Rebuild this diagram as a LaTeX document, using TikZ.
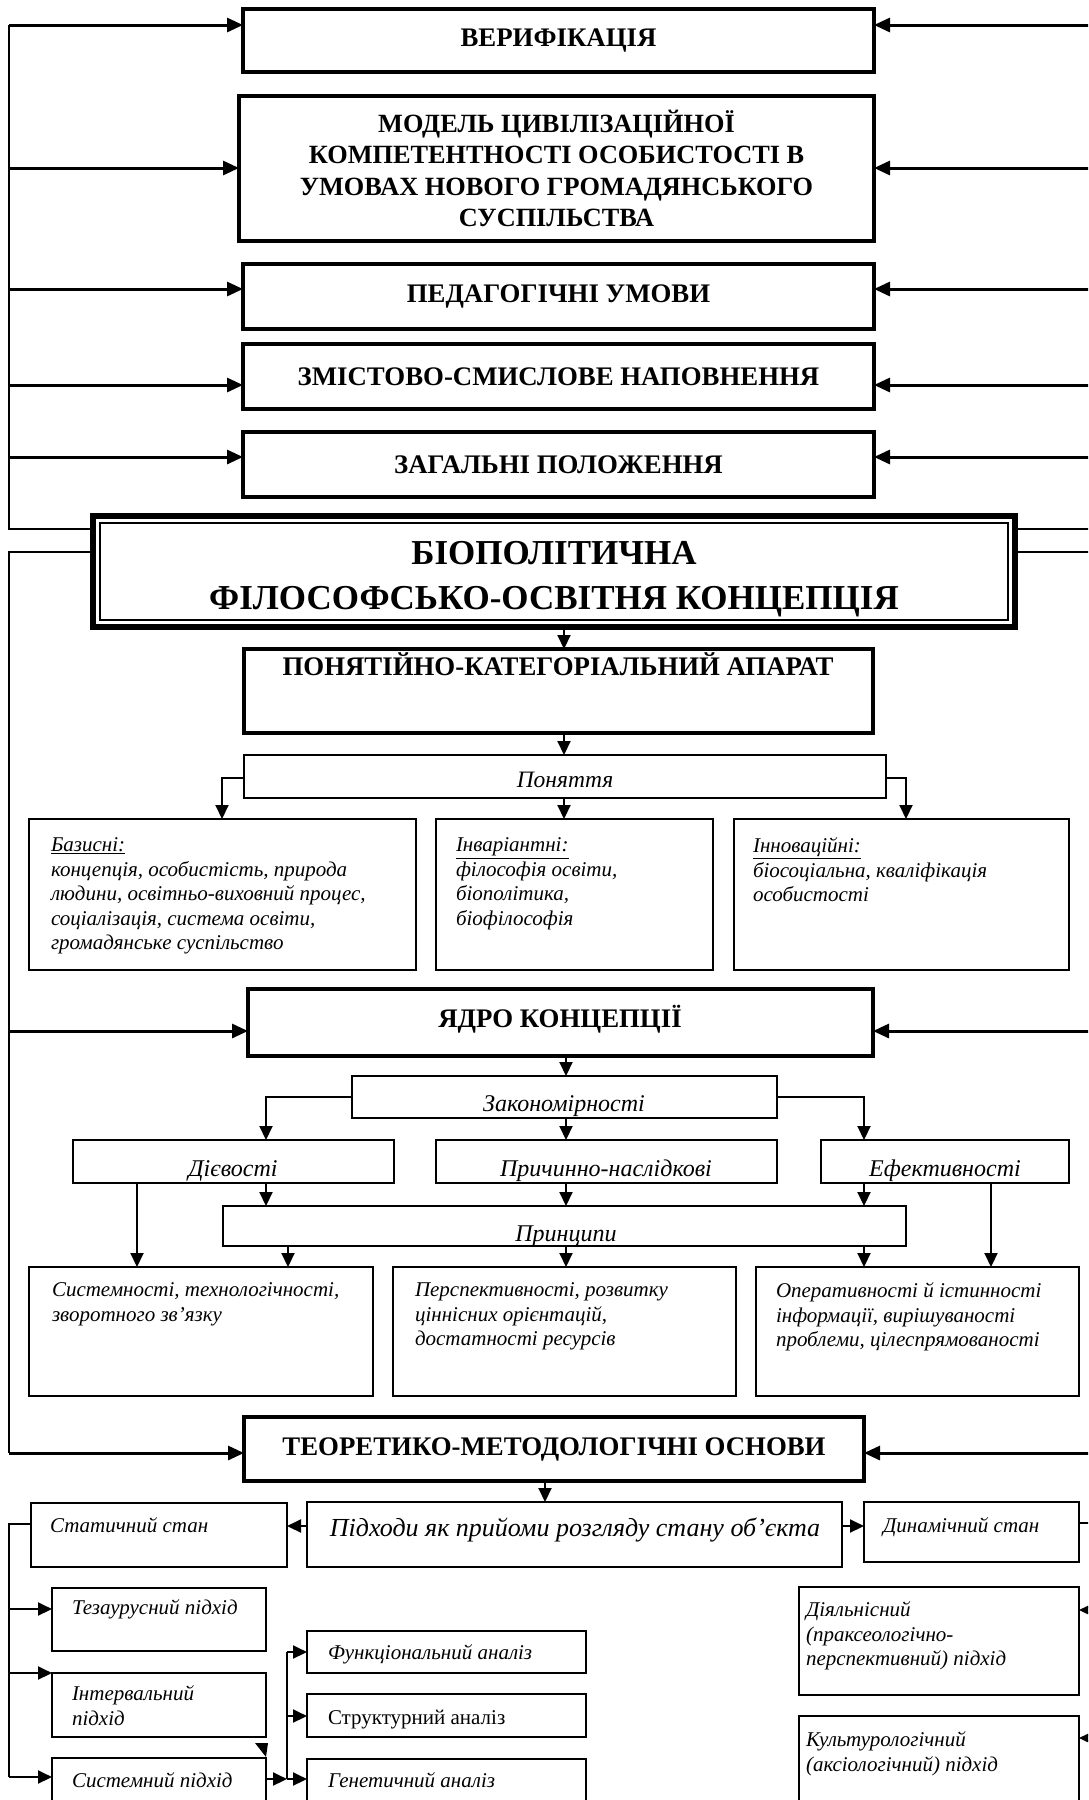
\documentclass[tikz,border=0pt]{standalone}
\usepackage{fontspec}
\setmainfont{Liberation Serif}
\usetikzlibrary{arrows.meta,calc}
\tikzset{
  mainbox/.style={draw, line width=3.6pt, inner sep=0pt, outer sep=0pt, anchor=north west, align=center,
    font=\fontsize{26.8}{31.5}\selectfont\bfseries},
  smallbox/.style={draw, line width=2pt, inner sep=0pt, outer sep=0pt, anchor=north west},
  bodytext/.style={inner sep=0pt, outer sep=0pt, anchor=north west, align=left,
    font=\fontsize{21}{24.5}\selectfont\itshape},
  centertext/.style={inner sep=0pt, outer sep=0pt, anchor=base, font=\fontsize{24}{28}\selectfont\itshape},
  boldtext/.style={inner sep=0pt, outer sep=0pt, anchor=base, font=\fontsize{26.8}{31.5}\selectfont\bfseries},
  arr/.style={line width=3pt, -{Triangle[length=16pt,width=14pt]}},
  thinarr/.style={line width=2pt, -{Triangle[length=14pt,width=13pt]}},
  plainline/.style={line width=1.6pt},
}
\begin{document}
\begin{tikzpicture}[x=1pt,y=-1pt]
\useasboundingbox (0,0) rectangle (1088,1800);
\clip (0,0) rectangle (1088,1800);
\fill[white] (0,0) rectangle (1088,1800);

% ---------- upper boxes ----------
\node[mainbox, minimum width=631, minimum height=63] (ver) at (243,9) {ВЕРИФІКАЦІЯ};
\node[mainbox, minimum width=635, minimum height=145, font=\fontsize{26.3}{31.5}\selectfont\bfseries] (model) at (239,96)
  {МОДЕЛЬ ЦИВІЛІЗАЦІЙНОЇ\\КОМПЕТЕНТНОСТІ ОСОБИСТОСТІ В\\УМОВАХ НОВОГО ГРОМАДЯНСЬКОГО\\СУСПІЛЬСТВА};
\node[mainbox, minimum width=631, minimum height=65] (ped) at (243,264) {ПЕДАГОГІЧНІ УМОВИ};
\node[mainbox, minimum width=631, minimum height=65] (zmist) at (243,344) {ЗМІСТОВО-СМИСЛОВЕ НАПОВНЕННЯ};
\node[mainbox, minimum width=631, minimum height=65] (zah) at (243,432) {ЗАГАЛЬНІ ПОЛОЖЕННЯ};

% ---------- big box ----------
\node[draw, line width=6pt, inner sep=0pt, outer sep=0pt, anchor=north west,
  minimum width=922, minimum height=111] (big) at (93,516) {};
\draw[line width=1.5pt] ([shift={(7,7)}]big.north west) rectangle ([shift={(-7,-7)}]big.south east);
\node[inner sep=0pt, align=center, font=\fontsize{35}{45}\selectfont\bfseries] (bigT) at (554,579)
  {БІОПОЛІТИЧНА\\ФІЛОСОФСЬКО-ОСВІТНЯ КОНЦЕПЦІЯ};

% ---------- concepts ----------
\node[mainbox, minimum width=629, minimum height=84] (ponyat) at (244,649) {};
\node[boldtext] (ponyatT) at (558,675) {ПОНЯТІЙНО-КАТЕГОРІАЛЬНИЙ АПАРАТ};
\node[smallbox, minimum width=642, minimum height=43] (pon) at (244,755) {};
\node[centertext, font=\fontsize{23.5}{28}\selectfont\itshape] (ponT) at (565,787) {Поняття};

\node[smallbox, minimum width=387, minimum height=151] (baz) at (29,819) {};
\node[bodytext] (bazT) at (51,838) {\underline{Базисні:}\\концепція, особистість, природа\\людини, освітньо-виховний процес,\\соціалізація, система освіти,\\громадянське суспільство};
\node[smallbox, minimum width=277, minimum height=151] (inv) at (436,819) {};
\node[bodytext] (invT) at (456,838) {\underline{Інваріантні:}\\філософія освіти,\\біополітика,\\біофілософія};
\node[smallbox, minimum width=335, minimum height=151] (inn) at (734,819) {};
\node[bodytext] (innT) at (753,838) {\underline{Інноваційні:}\\біосоціальна, кваліфікація\\особистості};

% ---------- core ----------
\node[mainbox, minimum width=625, minimum height=67] (yadro) at (248,989) {};
\node[boldtext] (yadroT) at (560,1027) {ЯДРО КОНЦЕПЦІЇ};
\node[smallbox, minimum width=425, minimum height=42] (zakon) at (352,1076) {};
\node[centertext] (zakonT) at (564,1111) {Закономірності};
\node[smallbox, minimum width=321, minimum height=43] (diev) at (73,1140) {};
\node[centertext] (dievT) at (233,1176) {Дієвості};
\node[smallbox, minimum width=341, minimum height=43] (prych) at (436,1140) {};
\node[centertext] (prychT) at (606,1176) {Причинно-наслідкові};
\node[smallbox, minimum width=248, minimum height=43] (efekt) at (821,1140) {};
\node[centertext] (efektT) at (945,1176) {Ефективності};
\node[smallbox, minimum width=683, minimum height=40] (princ) at (223,1206) {};
\node[centertext] (princT) at (566,1241) {Принципи};

\node[smallbox, minimum width=344, minimum height=129] (sysb) at (29,1267) {};
\node[bodytext] (sysbT) at (52,1283) {Системності, технологічності,\\зворотного зв’язку};
\node[smallbox, minimum width=343, minimum height=129] (persp) at (393,1267) {};
\node[bodytext] (perspT) at (415,1283) {Перспективності, розвитку\\ціннісних орієнтацій,\\достатності ресурсів};
\node[smallbox, minimum width=323, minimum height=129] (oper) at (756,1267) {};
\node[bodytext] (operT) at (776,1283) {Оперативності й істинності\\інформації, вирішуваності\\проблеми, цілеспрямованості};

% ---------- foundations ----------
\node[mainbox, minimum width=620, minimum height=64] (teor) at (244,1417) {};
\node[boldtext] (teorT) at (554,1455) {ТЕОРЕТИКО-МЕТОДОЛОГІЧНІ ОСНОВИ};
\node[smallbox, minimum width=535, minimum height=65] (pidh) at (307,1502) {};
\node[centertext, font=\fontsize{26}{30}\selectfont\itshape] (pidhT) at (575,1536) {Підходи як прийоми розгляду стану об’єкта};
\node[smallbox, minimum width=256, minimum height=64] (stat) at (31,1503) {};
\node[bodytext] (statT) at (50,1518) {Статичний стан};
\node[smallbox, minimum width=215, minimum height=60] (dyn) at (864,1502) {};
\node[bodytext] (dynT) at (883,1518) {Динамічний стан};

\node[smallbox, minimum width=214, minimum height=63] (tez) at (52,1588) {};
\node[bodytext] (tezT) at (72,1600) {Тезаурусний підхід};
\node[smallbox, minimum width=214, minimum height=64] (int) at (52,1673) {};
\node[bodytext] (intT) at (72,1686) {Інтервальний\\підхід};
\node[smallbox, minimum width=214, minimum height=60] (sysp) at (52,1758) {};
\node[bodytext] (syspT) at (72,1773) {Системний підхід};

\node[smallbox, minimum width=279, minimum height=42] (func) at (307,1631) {};
\node[bodytext] (funcT) at (328,1645) {Функціональний аналіз};
\node[smallbox, minimum width=279, minimum height=43] (struct) at (307,1694) {};
\node[bodytext, font=\fontsize{21}{24}\selectfont\upshape] (structT) at (328,1710) {Структурний аналіз};
\node[smallbox, minimum width=279, minimum height=60] (gen) at (307,1759) {};
\node[bodytext] (genT) at (328,1773) {Генетичний аналіз};

\node[smallbox, minimum width=280, minimum height=108] (diyal) at (799,1587) {};
\node[bodytext] (diyalT) at (806,1602) {Діяльнісний\\(праксеологічно-\\перспективний) підхід};
\node[smallbox, minimum width=280, minimum height=100] (kult) at (799,1716) {};
\node[bodytext] (kultT) at (806,1732) {Культурологічний\\(аксіологічний) підхід};

% ---------- left/right feedback lines ----------
\coordinate (L1a) at (9,25);
\coordinate (L1b) at (9,529);
\coordinate (L2a) at (9,552);
\coordinate (L2b) at (9,1453);
\coordinate (R1) at (1092,529);
\coordinate (R2) at (1092,552);
\draw[plainline] (L1a) -- (L1b) -- (L1b -| big.west);
\draw[plainline] (L2a -| big.west) -- (L2a) -- (L2b);
\draw[plainline] (R1) -- (R1 -| big.east);
\draw[plainline] (R2) -- (R2 -| big.east);
\foreach \yy/\tg in {25/ver,168/model,289/ped,385/zmist,457/zah,1031/yadro,1453/teor}{
  \draw[arr] (9,\yy) -- (\tg.west |- 0,\yy);
  \draw[arr] (1092,\yy) -- (\tg.east |- 0,\yy);
}

% ---------- vertical flow ----------
\draw[thinarr] (big.south -| 564,0) -- (ponyat.north -| 564,0);
\draw[thinarr] (ponyat.south -| 564,0) -- (pon.north -| 564,0);
\draw[thinarr] (pon.south -| 564,0) -- (inv.north -| 564,0);
\draw[thinarr] (pon.west |- 0,778) -| (baz.north -| 222,0);
\draw[thinarr] (pon.east |- 0,778) -| (inn.north -| 906,0);

\draw[thinarr] (yadro.south -| 566,0) -- (zakon.north -| 566,0);
\draw[thinarr] (zakon.south -| 566,0) -- (prych.north -| 566,0);
\draw[thinarr] (zakon.west |- 0,1097) -| (diev.north -| 266,0);
\draw[thinarr] (zakon.east |- 0,1097) -| (efekt.north -| 864,0);
\draw[thinarr] (diev.south -| 266,0) -- (princ.north -| 266,0);
\draw[thinarr] (prych.south -| 566,0) -- (princ.north -| 566,0);
\draw[thinarr] (efekt.south -| 864,0) -- (princ.north -| 864,0);
\draw[thinarr] (diev.south -| 137,0) -- (sysb.north -| 137,0);
\draw[thinarr] (efekt.south -| 991,0) -- (oper.north -| 991,0);
\draw[thinarr] (princ.south -| 288,0) -- (sysb.north -| 288,0);
\draw[thinarr] (princ.south -| 566,0) -- (persp.north -| 566,0);
\draw[thinarr] (princ.south -| 864,0) -- (oper.north -| 864,0);

\draw[thinarr] (teor.south -| 545,0) -- (pidh.north -| 545,0);
\draw[thinarr] (pidh.west |- 0,1526) -- (stat.east |- 0,1526);
\draw[thinarr] (pidh.east |- 0,1526) -- (dyn.west |- 0,1526);

% ---------- bottom ----------
\coordinate (L3a) at (9,1524);
\coordinate (L3b) at (9,1777);
\draw[plainline] (stat.west |- L3a) -- (L3a) -- (L3b);
\draw[thinarr] (9,1609) -- (tez.west |- 0,1609);
\draw[thinarr] (9,1673) -- (int.west |- 0,1673);
\draw[thinarr] (L3b) -- (sysp.west |- L3b);
\draw[plainline] (dyn.east |- 0,1523) -- (1092,1523);
\draw[thinarr] (1092,1610) -- (diyal.east |- 0,1610);
\draw[thinarr] (1092,1738) -- (kult.east |- 0,1738);

\coordinate (V1) at (287,1652);
\coordinate (V2) at (287,1779);
\draw[plainline] (V1) -- (V2);
\draw[thinarr] (sysp.east |- V2) -- (V2);
\draw[thinarr] (V1) -- (func.west |- V1);
\draw[thinarr] (287,1716) -- (struct.west |- 0,1716);
\draw[thinarr] (V2) -- (gen.west |- V2);
\fill (255,1743) -- (268,1743) -- (266,1757) -- cycle;
\end{tikzpicture}
\end{document}
